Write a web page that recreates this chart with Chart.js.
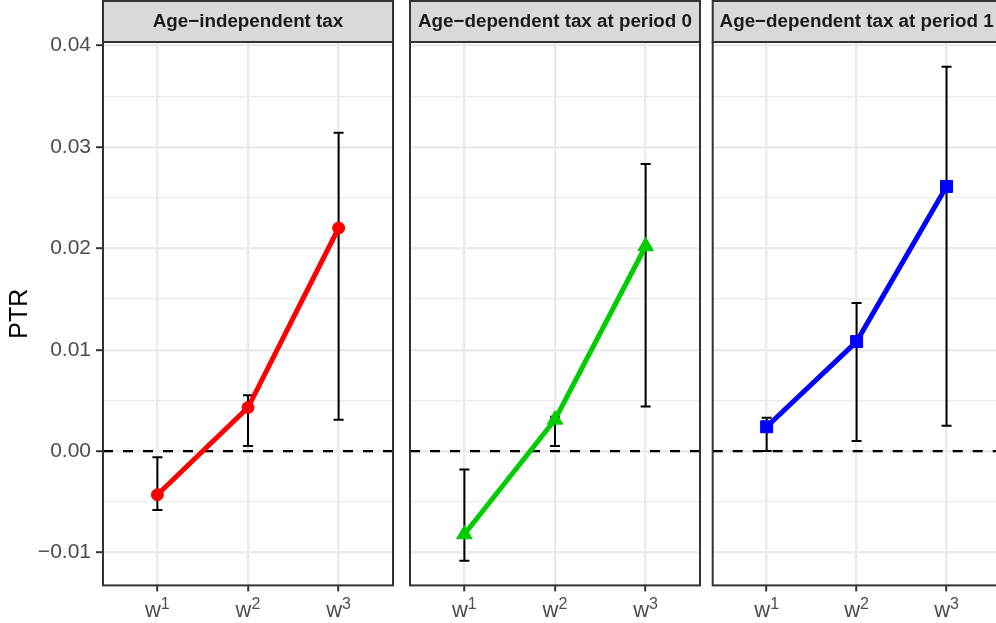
<!DOCTYPE html>
<html>
<head>
<meta charset="utf-8">
<script src="https://cdn.jsdelivr.net/npm/chart.js@4.4.1/dist/chart.umd.min.js"></script>
<style>
  html, body { margin: 0; padding: 0; background: #fff; }
  #wrap { position: relative; width: 996px; height: 623px; overflow: hidden; background: #fff; }
  #wrap canvas { position: absolute; top: 0; }
</style>
</head>
<body>
<div id="wrap">
  <canvas id="p1" width="400" height="623" style="left:0px"></canvas>
  <canvas id="p2" width="310" height="623" style="left:400px"></canvas>
  <canvas id="p3" width="310" height="623" style="left:700px"></canvas>
</div>
<script>
// x positions of the three wage levels, and their labels (w + superscript)
const categories = [1, 2, 3];
const tickBase = ['w', 'w', 'w'];
const tickSup = ['1', '2', '3'];

const yMajor = [-0.01, 0, 0.01, 0.02, 0.03, 0.04];
const yMinor = [-0.005, 0.005, 0.015, 0.025, 0.035];
const yLabels = ['\u22120.01', '0.00', '0.01', '0.02', '0.03', '0.04'];

const panelTitles = [
	'Age\u2212independent tax',
	'Age\u2212dependent tax at period 0',
	'Age\u2212dependent tax at period 1',
];

// point estimates and interval ends
const ptrIndep = [-0.0043, 0.0043, 0.0220];
const lowIndep = [-0.0058, 0.0005, 0.0031];
const highIndep = [-0.0006, 0.0055, 0.0314];

const ptrAge0 = [-0.0082, 0.0031, 0.0202];
const lowAge0 = [-0.0108, 0.0005, 0.0044];
const highAge0 = [-0.0018, 0.0034, 0.0283];

const ptrAge1 = [0.0024, 0.0108, 0.0261];
const lowAge1 = [0.0000, 0.0010, 0.0025];
const highAge1 = [0.0033, 0.0146, 0.0379];

const FONT = '"Liberation Sans", Arial, Helvetica, sans-serif';
const yMin = -0.01324, yMax = 0.04034;

const near = (a, b) => Math.abs(a - b) < 1e-9;
const isMajor = v => yMajor.some(m => near(m, v));

function facetPlugin(title, low, high) {
	return {
		id: 'facet',
		beforeDatasetsDraw(chart) {
			const { ctx, chartArea: a, scales: { x, y } } = chart;
			ctx.save();
			// zero reference line
			ctx.strokeStyle = '#000';
			ctx.lineWidth = 2.3;
			ctx.setLineDash([10, 10]);
			const y0 = y.getPixelForValue(0);
			ctx.beginPath();
			ctx.moveTo(a.left, y0);
			ctx.lineTo(a.right, y0);
			ctx.stroke();
			ctx.setLineDash([]);
			// error bars
			ctx.lineWidth = 2;
			categories.forEach((c, i) => {
				const px = x.getPixelForValue(c);
				const top = y.getPixelForValue(high[i]);
				const bot = y.getPixelForValue(low[i]);
				ctx.beginPath();
				ctx.moveTo(px, top); ctx.lineTo(px, bot);
				ctx.moveTo(px - 5, top); ctx.lineTo(px + 5, top);
				ctx.moveTo(px - 5, bot); ctx.lineTo(px + 5, bot);
				ctx.stroke();
			});
			ctx.restore();
		},
		afterDatasetsDraw(chart) {
			const { ctx, chartArea: a, scales: { x } } = chart;
			ctx.save();
			ctx.strokeStyle = '#333333';
			ctx.lineWidth = 2;
			ctx.strokeRect(a.left, a.top, a.right - a.left, a.bottom - a.top);
			// strip
			ctx.fillStyle = '#D9D9D9';
			ctx.fillRect(a.left, 1, a.right - a.left, a.top - 1);
			ctx.strokeRect(a.left, 1, a.right - a.left, a.top - 1);
			ctx.fillStyle = '#1A1A1A';
			ctx.font = 'bold 18.8px ' + FONT;
			ctx.textAlign = 'center';
			ctx.textBaseline = 'middle';
			ctx.fillText(title, (a.left + a.right) / 2, 21.5);
			// x tick labels with superscripts
			ctx.fillStyle = '#4D4D4D';
			ctx.textAlign = 'left';
			ctx.textBaseline = 'alphabetic';
			categories.forEach((c, i) => {
				const px = x.getPixelForValue(c);
				ctx.font = '22px ' + FONT;
				const wb = ctx.measureText(tickBase[i]).width;
				ctx.font = '16px ' + FONT;
				const ws = ctx.measureText(tickSup[i]).width;
				const start = px - (wb + ws) / 2;
				ctx.font = '22px ' + FONT;
				ctx.fillText(tickBase[i], start, 617);
				ctx.font = '16px ' + FONT;
				ctx.fillText(tickSup[i], start + wb, 608.5);
			});
			ctx.restore();
		},
	};
}

function makePanel(id, title, values, low, high, color, style, radius, axisW, padRight, showAxis) {
	const ctx = document.getElementById(id).getContext('2d');
	new Chart(ctx, {
		type: 'line',
		data: {
			datasets: [{
				data: categories.map((c, i) => ({ x: c, y: values[i] })),
				borderColor: color,
				backgroundColor: color,
				borderWidth: 5,
				pointStyle: style,
				pointRadius: radius,
				pointBorderWidth: 1,
				pointBorderColor: color,
				pointBackgroundColor: color,
				tension: 0,
			}],
		},
		options: {
			responsive: false,
			animation: false,
			devicePixelRatio: 1,
			events: [],
			layout: { padding: { left: 0, right: padRight, top: 42, bottom: 0 } },
			plugins: { legend: { display: false }, tooltip: { enabled: false } },
			scales: {
				x: {
					type: 'linear',
					min: 0.4,
					max: 3.6,
					afterBuildTicks: s => { s.ticks = categories.map(v => ({ value: v })); },
					afterFit: s => { s.height = 623 - 585.4; },
					border: { display: false },
					grid: { color: '#EBEBEB', lineWidth: 2.4, tickLength: 6, tickWidth: 2, tickColor: '#333333' },
					ticks: { display: false },
				},
				y: {
					min: yMin,
					max: yMax,
					afterBuildTicks: s => {
						s.ticks = yMinor.concat(yMajor).sort((a, b) => a - b).map(v => ({ value: v }));
					},
					afterFit: s => { s.width = axisW; },
					border: { display: false },
					grid: {
						color: '#EBEBEB',
						lineWidth: c => (c.tick && isMajor(c.tick.value)) ? 2.4 : 1.2,
						drawTicks: showAxis,
						tickLength: 7,
						tickWidth: 2,
						tickColor: c => (c.tick && isMajor(c.tick.value)) ? '#333333' : 'rgba(0,0,0,0)',
					},
					ticks: {
						display: showAxis,
						autoSkip: false,
						padding: 5,
						color: '#4D4D4D',
						font: { family: FONT, size: 21 },
						callback: v => {
							const k = yMajor.findIndex(m => near(m, v));
							return k >= 0 ? yLabels[k] : '';
						},
					},
					title: {
						display: showAxis,
						text: 'PTR',
						color: '#000',
						font: { family: FONT, size: 25 },
						padding: { top: 5, bottom: 0 },
					},
				},
			},
		},
		plugins: [facetPlugin(title, low, high)],
	});
}

makePanel('p1', panelTitles[0], ptrIndep, lowIndep, highIndep, '#FF0000', 'circle', 6, 103, 5.7, true);
makePanel('p2', panelTitles[1], ptrAge0, lowAge0, highAge0, '#00CD00', 'triangle', 9, 8.3, 10, false);
makePanel('p3', panelTitles[2], ptrAge1, lowAge1, highAge1, '#0000FF', 'rect', 8.5, 12.7, 5.3, false);
</script>
</body>
</html>
